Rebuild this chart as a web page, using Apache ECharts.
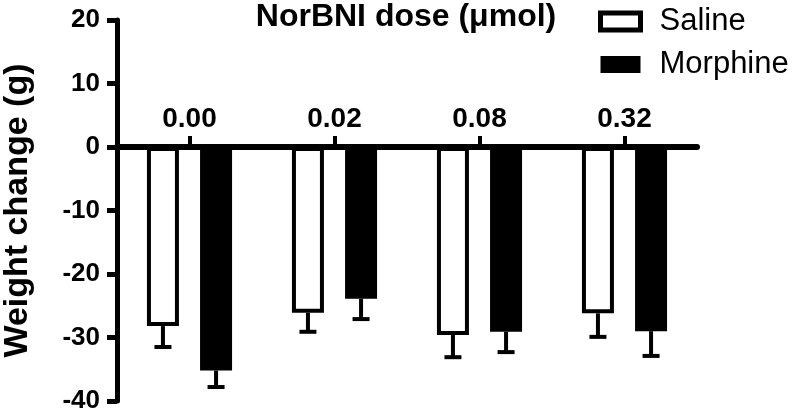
<!DOCTYPE html>
<html>
<head>
<meta charset="utf-8">
<script src="https://cdn.jsdelivr.net/npm/echarts@6/dist/echarts.min.js"></script>
<style>html,body{margin:0;padding:0;background:#fff}#c{width:792px;height:414px}</style>
</head>
<body>
<div id="c"></div>
<script>
var categories = ['0.00', '0.02', '0.08', '0.32'];
var salineMean = [-28.2, -26.1, -29.6, -26.2];
var salineSem = [3.3, 3.0, 3.5, 3.7];
var morphineMean = [-35.2, -23.9, -29.1, -29.0];
var morphineSem = [2.6, 3.2, 3.2, 3.9];
var yTicks = [-40, -30, -20, -10, 0, 10, 20];

var FONT = '"Liberation Sans", Arial, Helvetica, sans-serif';
var BAR_W = 32;
var BAR_GAP = 0.66;
var OFFSET = (BAR_W + BAR_W * BAR_GAP) / 2;

function errSeries(name, means, sems, dir) {
  var data = means.map(function (m, i) { return [i, m, m - sems[i]]; });
  return {
    type: 'custom',
    name: name + ' err',
    z: 5,
    silent: true,
    data: data,
    renderItem: function (params, api) {
      var p0 = api.coord([api.value(0), api.value(1)]);
      var p1 = api.coord([api.value(0), api.value(2)]);
      var x = p0[0] + dir * OFFSET;
      var capHalf = 8.5;
      var st = { stroke: '#000', lineWidth: 4 };
      return {
        type: 'group',
        children: [
          { type: 'line', shape: { x1: x, y1: p0[1], x2: x, y2: p1[1] }, style: st },
          { type: 'line', shape: { x1: x - capHalf, y1: p1[1], x2: x + capHalf, y2: p1[1] }, style: st }
        ]
      };
    }
  };
}

var chart = echarts.init(document.getElementById('c'), null, { renderer: 'canvas' });
chart.setOption({
  animation: false,
  backgroundColor: '#fff',
  title: {
    text: 'NorBNI dose (\u03bcmol)',
    left: 401,
    textAlign: 'center',
    top: -4,
    textStyle: { fontFamily: FONT, fontWeight: 'bold', fontSize: 32, color: '#000' }
  },
  legend: {
    orient: 'vertical',
    left: 598,
    top: 6,
    padding: 0,
    icon: 'rect',
    itemWidth: 40,
    itemHeight: 17,
    itemGap: 12,
    data: [
      { name: 'Saline', itemStyle: { color: '#fff', borderColor: '#000', borderWidth: 5 } },
      { name: 'Morphine', itemStyle: { color: '#000', borderColor: '#000', borderWidth: 0 } }
    ],
    textStyle: { fontFamily: FONT, fontSize: 31, color: '#000', padding: [0, 0, 0, 14] }
  },
  grid: { left: 117, right: 95, top: 20, bottom: 13, containLabel: false, outerBoundsMode: 'none' },
  xAxis: {
    type: 'category',
    data: categories,
    position: 'top',
    offset: 0,
    z: 10,
    axisLine: { onZero: false, lineStyle: { color: '#000', width: 6 } },
    axisTick: { show: true, alignWithLabel: true, length: 11, lineStyle: { color: '#000', width: 4 } },
    axisLabel: { margin: 14, fontFamily: FONT, fontWeight: 'bold', fontSize: 28, color: '#000' },
    splitLine: { show: false }
  },
  yAxis: {
    type: 'value',
    min: yTicks[0],
    max: yTicks[yTicks.length - 1],
    interval: 10,
    name: 'Weight change (g)',
    nameLocation: 'middle',
    nameGap: 82,
    nameTextStyle: { fontFamily: FONT, fontWeight: 'bold', fontSize: 34, color: '#000' },
    axisLine: { show: true, lineStyle: { color: '#000', width: 5 } },
    axisTick: { show: true, length: 10, lineStyle: { color: '#000', width: 5 } },
    axisLabel: { margin: 17, fontFamily: FONT, fontWeight: 'bold', fontSize: 26, color: '#000' },
    splitLine: { show: false }
  },
  series: [
    {
      name: 'Saline',
      type: 'bar',
      data: salineMean,
      barWidth: BAR_W,
      barGap: (BAR_GAP * 100) + '%',
      itemStyle: { color: '#fff', borderColor: '#000', borderWidth: 4 }
    },
    {
      name: 'Morphine',
      type: 'bar',
      data: morphineMean,
      barWidth: BAR_W,
      itemStyle: { color: '#000', borderColor: '#000', borderWidth: 4 }
    },
    errSeries('Saline', salineMean, salineSem, -1),
    errSeries('Morphine', morphineMean, morphineSem, 1)
  ]
});

// Move the category axis down to the y = 0 line, using the library's own scale.
var topY = chart.convertToPixel({ yAxisIndex: 0 }, yTicks[yTicks.length - 1]);
var zeroY = chart.convertToPixel({ yAxisIndex: 0 }, 0);
chart.setOption({ xAxis: { offset: -(zeroY - topY) } });
</script>
</body>
</html>
